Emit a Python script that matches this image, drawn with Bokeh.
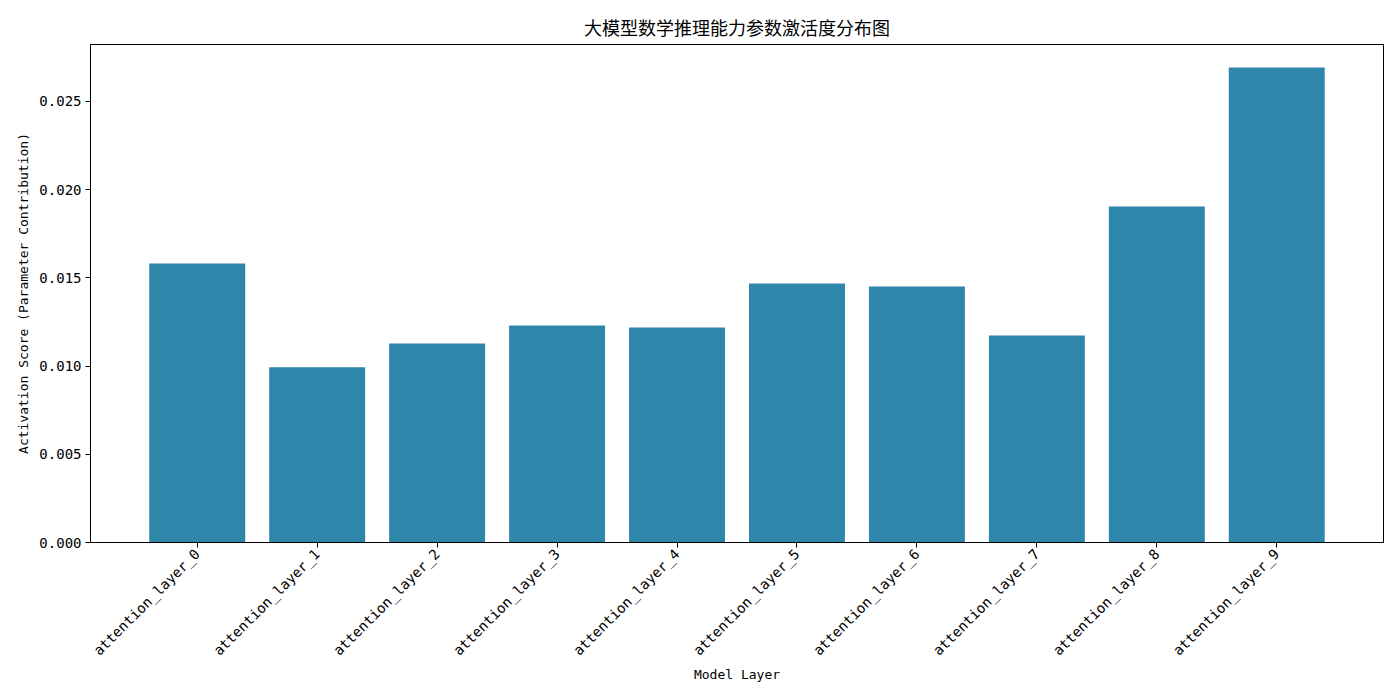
from bokeh.plotting import figure
from bokeh.models import Range1d, FixedTicker, NumeralTickFormatter
from bokeh.embed import file_html
from bokeh.resources import INLINE
import math

layers = ["attention_layer_0", "attention_layer_1", "attention_layer_2", "attention_layer_3",
          "attention_layer_4", "attention_layer_5", "attention_layer_6", "attention_layer_7",
          "attention_layer_8", "attention_layer_9"]
scores = [0.01582, 0.00993, 0.01128, 0.01230, 0.01219, 0.01468, 0.01451, 0.01173, 0.01905, 0.02693]
y_ticks = [0.0, 0.005, 0.010, 0.015, 0.020, 0.025]

title_text = "大模型数学推理能力参数激活度分布图"
x_label = "Model Layer"
y_label = "Activation Score (Parameter Contribution)"

xs = list(range(len(layers)))

p = figure(width=1400, height=700, output_backend="svg", toolbar_location=None,
           x_range=Range1d(-0.89, len(layers) - 1 + 0.89), y_range=Range1d(0, 0.02823),
           min_border_left=90, min_border_right=17, min_border_top=44, min_border_bottom=158)
p.title.text = title_text
p.title.align = "center"
p.title.text_font = "Noto Sans CJK SC"
p.title.text_font_size = "18px"
p.title.text_font_style = "normal"
p.title.text_color = "black"
p.title.offset = 0
p.title.standoff = 9

p.vbar(x=xs, top=scores, width=0.8, fill_color="#2E86AB", line_color=None)

p.grid.visible = False
p.outline_line_color = "black"
p.outline_line_width = 1

p.xaxis.ticker = FixedTicker(ticks=xs)
p.xaxis.major_label_overrides = {i: l for i, l in enumerate(layers)}
p.xaxis.major_label_orientation = math.pi / 4
p.yaxis.ticker = FixedTicker(ticks=y_ticks)
p.yaxis.formatter = NumeralTickFormatter(format="0.000")

for ax in (p.xaxis, p.yaxis):
    ax.minor_tick_line_color = None
    ax.major_tick_in = 0
    ax.major_tick_out = 5
    ax.major_tick_line_color = "black"
    ax.axis_line_color = "black"
    ax.major_label_text_font = "DejaVu Sans Mono"
    ax.major_label_text_font_size = "14px"
    ax.major_label_text_color = "black"
    ax.axis_label_text_font = "DejaVu Sans Mono"
    ax.axis_label_text_font_size = "13px"
    ax.axis_label_text_font_style = "normal"
    ax.axis_label_text_color = "black"

p.xaxis.axis_label = x_label
p.yaxis.axis_label = y_label
p.xaxis.major_label_standoff = 4
p.yaxis.major_label_standoff = 4
p.xaxis.axis_label_standoff = 0
p.yaxis.axis_label_standoff = 5

open("out.html", "w").write(file_html(p, INLINE))
